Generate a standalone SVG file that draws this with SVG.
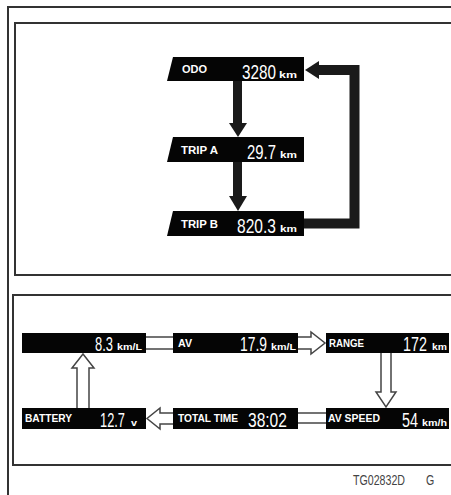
<svg xmlns="http://www.w3.org/2000/svg" width="451" height="495" viewBox="0 0 451 495">
<style>
.frame{fill:none;stroke:#333;stroke-width:2}
.node{fill:#050505}
.lbl{font-family:"Liberation Sans",Arial,sans-serif;font-weight:bold;font-size:10px;fill:#fff}
.num{font-family:"Liberation Sans",Arial,sans-serif;font-size:21px;fill:#fff}
.unit{font-family:"Liberation Sans",Arial,sans-serif;font-weight:bold;font-size:9px;fill:#fff}
.solid{fill:#1a1a1a}
.hollow{fill:#fff;stroke:#444;stroke-width:1.5}
.dbl{stroke:#444;stroke-width:1.5}
.code{font-family:"Liberation Sans",Arial,sans-serif;font-size:14px;fill:#444}
</style>
<g id="frames">
<path class="frame" d="M8,495 V7 H451"/>
<path class="frame" d="M451,23 H15 V275 H451"/>
<path class="frame" d="M451,295 H13 V465 H451"/>
</g>
<g id="connectors">
<rect class="solid" x="233" y="81" width="9" height="43"/>
<polygon class="solid" points="229,123 247,123 238,137"/>
<rect class="solid" x="233" y="162" width="9" height="35"/>
<polygon class="solid" points="229,196 247,196 238,211"/>
<path d="M304,223.5 H354.5 V70 H317" fill="none" stroke="#1a1a1a" stroke-width="10"/>
<polygon class="solid" points="319,61 319,79 305,70"/>
<line class="dbl" x1="146" y1="337" x2="173" y2="337"/>
<line class="dbl" x1="146" y1="349" x2="173" y2="349"/>
<path class="hollow" d="M298,337 H311 V332 L325,343 L311,354 V349 H298"/>
<path class="hollow" d="M381,353 V392 H376 L386,407 L396,392 H391 V353"/>
<line class="dbl" x1="298" y1="413" x2="326" y2="413"/>
<line class="dbl" x1="298" y1="423" x2="326" y2="423"/>
<path class="hollow" d="M173,413 H160 V408 L147,418.5 L160,429 V424 H173"/>
<path class="hollow" d="M77,408 V368 H72 L83,354 L94,368 H89 V408"/>
</g>
<g id="odo">
<polygon class="node" points="173,57 304,57 304,81 167,81"/>
<text class="lbl" x="182" y="73" textLength="25" lengthAdjust="spacingAndGlyphs">ODO</text>
<text class="num" transform="translate(242,78.5) scale(0.728,1)">3280</text>
<text class="unit" x="279" y="78" textLength="18" lengthAdjust="spacingAndGlyphs">km</text>
</g>
<g id="tripa">
<polygon class="node" points="173,137 304,137 304,162 167,162"/>
<text class="lbl" x="181" y="153.5" textLength="37" lengthAdjust="spacingAndGlyphs">TRIP A</text>
<text class="num" transform="translate(247,158.5) scale(0.709,1)">29.7</text>
<text class="unit" x="280" y="158" textLength="17" lengthAdjust="spacingAndGlyphs">km</text>
</g>
<g id="tripb">
<polygon class="node" points="173,211 304,211 304,236 167,236"/>
<text class="lbl" x="181" y="227.5" textLength="37" lengthAdjust="spacingAndGlyphs">TRIP B</text>
<text class="num" transform="translate(237,232.5) scale(0.741,1)">820.3</text>
<text class="unit" x="280" y="232" textLength="17" lengthAdjust="spacingAndGlyphs">km</text>
</g>
<g id="fuel">
<rect class="node" x="22" y="333" width="124" height="20"/>
<text class="num" transform="translate(95,351) scale(0.616,1)">8.3</text>
<text class="unit" x="117" y="350" textLength="25" lengthAdjust="spacingAndGlyphs">km/L</text>
</g>
<g id="av">
<rect class="node" x="173" y="333" width="125" height="20"/>
<text class="lbl" x="178" y="347" textLength="14" lengthAdjust="spacingAndGlyphs">AV</text>
<text class="num" transform="translate(240,351) scale(0.66,1)">17.9</text>
<text class="unit" x="271" y="350" textLength="25" lengthAdjust="spacingAndGlyphs">km/L</text>
</g>
<g id="range">
<rect class="node" x="326" y="333" width="123" height="20"/>
<text class="lbl" x="329" y="347" textLength="35" lengthAdjust="spacingAndGlyphs">RANGE</text>
<text class="num" transform="translate(403,351) scale(0.685,1)">172</text>
<text class="unit" x="432" y="350" textLength="15" lengthAdjust="spacingAndGlyphs">km</text>
</g>
<g id="battery">
<rect class="node" x="22" y="408" width="124" height="21"/>
<text class="lbl" x="25" y="422" textLength="47" lengthAdjust="spacingAndGlyphs">BATTERY</text>
<text class="num" transform="translate(100,427) scale(0.611,1)">12.7</text>
<text class="unit" x="131" y="426" textLength="6" lengthAdjust="spacingAndGlyphs">v</text>
</g>
<g id="totaltime">
<rect class="node" x="173" y="408" width="125" height="21"/>
<text class="lbl" x="178" y="422" textLength="60" lengthAdjust="spacingAndGlyphs">TOTAL TIME</text>
<text class="num" transform="translate(248,427) scale(0.741,1)">38:02</text>
</g>
<g id="avspeed">
<rect class="node" x="326" y="408" width="123" height="21"/>
<text class="lbl" x="328" y="422" textLength="52" lengthAdjust="spacingAndGlyphs">AV SPEED</text>
<text class="num" transform="translate(402,427) scale(0.684,1)">54</text>
<text class="unit" x="422" y="426" textLength="25" lengthAdjust="spacingAndGlyphs">km/h</text>
</g>
<g id="caption">
<text class="code" transform="translate(353,485) scale(0.76,1)">TG02832D</text>
<text class="code" transform="translate(426,485) scale(0.76,1)">G</text>
</g>
</svg>
